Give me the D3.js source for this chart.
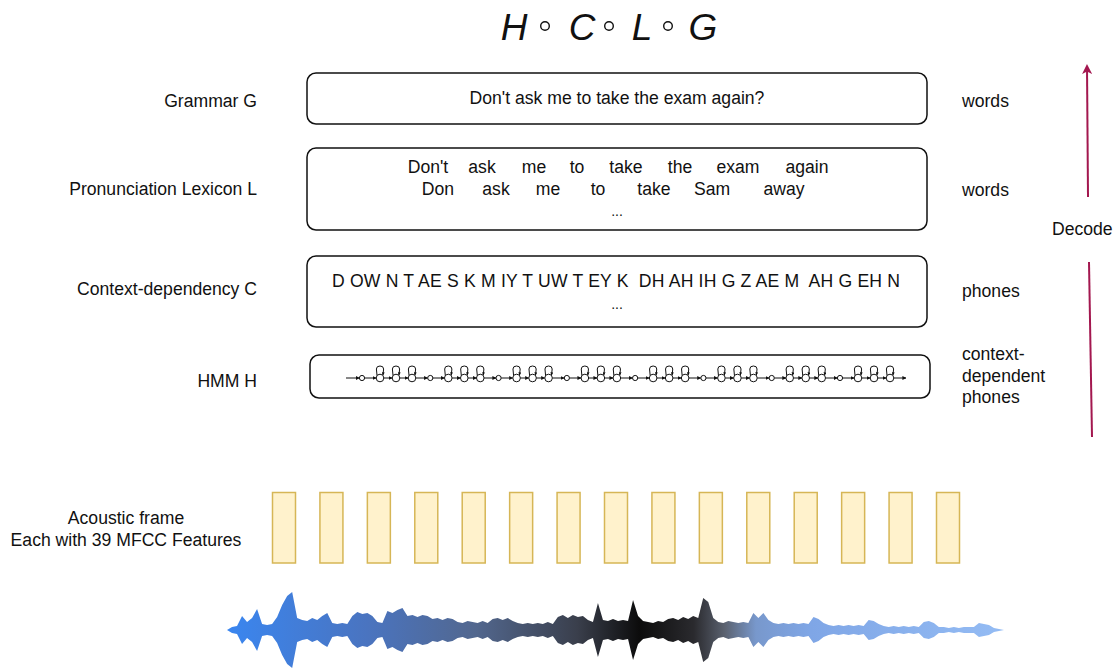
<!DOCTYPE html>
<html><head><meta charset="utf-8">
<script src="https://cdn.jsdelivr.net/npm/d3@7"></script>
<style>
html,body{margin:0;padding:0;background:#fff;}
svg{display:block;font-family:"Liberation Sans",Arial,Helvetica,sans-serif;}
</style></head>
<body><svg id="c" width="1118" height="671"></svg>
<script>
// ---------- data ----------
const titleParts = ["H","C","L","G"];
const layerNames = ["Grammar G","Pronunciation Lexicon L","Context-dependency C","HMM H"];
const layerUnits = [["words"],["words"],["phones"],["context-","dependent","phones"]];
const grammarSentence = "Don't ask me to take the exam again?";
const lexiconRow1 = ["Don't","ask","me","to","take","the","exam","again"];
const lexiconRow2 = ["Don","ask","me","to","take","Sam","away"];
const phoneString = "D OW N T AE S K M IY T UW T EY K  DH AH IH G Z AE M  AH G EH N";
const hmmPhoneCount = 8;
const hmmStatesPerPhone = 3;
const frameCount = 15;
const frameLabel = ["Acoustic frame","Each with 39 MFCC Features"];
const decodeLabel = "Decode";
// waveform envelope (half-amplitude), sampled evenly left→right
const waveAmp = [0,3,4,14,8,12,21,6,5,6,13,25,34,38,12,10,9,12,10,14,17,7,6,7,6,14,18,16,17,14,8,7,19,17,20,22,14,15,13,15,14,11,12,10,12,11,8,7,9,8,7,9,7,11,12,10,12,9,7,6,7,6,7,6,8,6,13,15,12,15,13,14,10,8,27,10,9,11,9,10,9,30,14,9,8,7,9,8,11,12,10,13,11,14,12,32,28,12,8,7,9,8,7,8,7,17,12,17,10,7,6,7,6,7,6,7,6,13,11,7,5,4,5,4,5,4,5,4,10,9,6,4,3,4,3,4,3,4,3,8,9,7,3,3,2,3,2,3,3,3,7,6,5,2,1,0];

// ---------- drawing ----------
const svg = d3.select("#c");
const ink = "#111";
const fs = 17.6;
const defs = svg.append("defs");

// Title H ∘ C ∘ L ∘ G
const titleX = [514, 582, 642, 703];
const title = svg.append("g");
title.selectAll("text").data(titleParts).join("text")
  .attr("x", (d,i) => titleX[i]).attr("y", 40)
  .attr("text-anchor","middle").attr("font-size", 37).attr("font-style","italic")
  .attr("fill", ink).text(d => d);
title.selectAll("circle").data(titleParts.slice(1)).join("circle")
  .attr("cx", (d,i) => [545, 609, 668][i]).attr("cy", 26).attr("r", 4.3)
  .attr("fill","none").attr("stroke", ink).attr("stroke-width", 1.4);

// Layer boxes
const boxGeom = [
  {x:307, y:73, w:620, h:51},
  {x:307, y:148, w:620, h:82},
  {x:307, y:256, w:620, h:71},
  {x:310, y:355, w:620, h:43}
];
const labelY = [107, 195, 295, 387];
svg.append("g").selectAll("rect").data(boxGeom).join("rect")
  .attr("x", d => d.x).attr("y", d => d.y).attr("width", d => d.w).attr("height", d => d.h)
  .attr("rx", 9).attr("ry", 9).attr("fill","#fff").attr("stroke", ink).attr("stroke-width", 1.5);

svg.append("g").selectAll("text").data(layerNames).join("text")
  .attr("x", 257).attr("y", (d,i) => labelY[i]).attr("text-anchor","end")
  .attr("font-size", fs).attr("fill", ink).text(d => d);

const unitY = [107, 196, 297, 360];
const unitG = svg.append("g");
layerUnits.forEach((lines, i) => {
  lines.forEach((t, j) => {
    unitG.append("text").attr("x", 962).attr("y", unitY[i] + j * 21.5)
      .attr("font-size", fs).attr("fill", ink).text(t);
  });
});

// Grammar sentence
svg.append("text").attr("x", 617).attr("y", 104).attr("text-anchor","middle")
  .attr("font-size", fs).attr("fill", ink).text(grammarSentence);

// Lexicon rows
const row1X = [428, 482, 534, 577, 626, 680, 738, 807];
const row2X = [438, 496, 548, 598, 654, 712, 784];
svg.append("g").selectAll("text").data(lexiconRow1).join("text")
  .attr("x", (d,i) => row1X[i]).attr("y", 173).attr("text-anchor","middle")
  .attr("font-size", fs).attr("fill", ink).text(d => d);
svg.append("g").selectAll("text").data(lexiconRow2).join("text")
  .attr("x", (d,i) => row2X[i]).attr("y", 195).attr("text-anchor","middle")
  .attr("font-size", fs).attr("fill", ink).text(d => d);
svg.append("text").attr("x", 617).attr("y", 216).attr("text-anchor","middle")
  .attr("font-size", 14).attr("fill", ink).text("...");

// Context-dependency phones
svg.append("text").attr("x", 616).attr("y", 287).attr("text-anchor","middle")
  .attr("font-size", fs).attr("fill", ink).style("white-space","pre")
  .attr("textLength", 568).attr("lengthAdjust","spacing").text(phoneString);
svg.append("text").attr("x", 617).attr("y", 309).attr("text-anchor","middle")
  .attr("font-size", 14).attr("fill", ink).text("...");

// HMM chain
defs.append("marker").attr("id","ah").attr("viewBox","0 0 10 10").attr("refX",9).attr("refY",5)
  .attr("markerWidth",4).attr("markerHeight",4).attr("orient","auto-start-reverse")
  .append("path").attr("d","M0,0L10,5L0,10z").attr("fill", ink);
defs.append("marker").attr("id","ahs").attr("viewBox","0 0 10 10").attr("refX",9).attr("refY",5)
  .attr("markerWidth",3).attr("markerHeight",3).attr("orient","auto")
  .append("path").attr("d","M0,0L10,5L0,10z").attr("fill", ink);

const hx = d3.scaleLinear().domain([0, hmmPhoneCount - 1]).range([362, 840]);
const cyH = 378, rS = 3.8, rE = 2.6;
const stateOff = [18, 34, 50];
const hmm = svg.append("g").attr("stroke", ink).attr("stroke-width", 1).attr("fill","none");
const nodes = [];
d3.range(hmmPhoneCount).forEach(p => {
  nodes.push({x: hx(p), r: rE, state:false});
  d3.range(hmmStatesPerPhone).forEach(s => nodes.push({x: hx(p) + stateOff[s], r: rS, state:true}));
});
hmm.append("line").attr("x1", 346).attr("y1", cyH).attr("x2", nodes[0].x - nodes[0].r).attr("y2", cyH)
  .attr("marker-end","url(#ah)");
nodes.forEach((n, i) => {
  const next = nodes[i+1];
  const x1 = n.x + n.r, x2 = next ? next.x - next.r : 906;
  hmm.append("line").attr("x1", x1).attr("y1", cyH).attr("x2", x2).attr("y2", cyH)
    .attr("marker-end","url(#ah)");
});
hmm.selectAll("circle").data(nodes).join("circle")
  .attr("cx", d => d.x).attr("cy", cyH).attr("r", d => d.r).attr("fill","#fff");
hmm.selectAll("path.loop").data(nodes.filter(d => d.state)).join("path").attr("class","loop")
  .attr("d", d => `M${d.x-3},${cyH-2.6} L${d.x-3.6},${cyH-9} Q${d.x-3.6},${cyH-12} ${d.x},${cyH-12} Q${d.x+3.6},${cyH-12} ${d.x+3.6},${cyH-9} L${d.x+3},${cyH-3}`)
  .attr("marker-end","url(#ahs)");

// Acoustic frames
const fx = d3.scaleLinear().domain([0, frameCount - 1]).range([272, 936]);
svg.append("g").selectAll("rect").data(d3.range(frameCount)).join("rect")
  .attr("x", d => fx(d) + 0.5).attr("y", 492.5).attr("width", 23).attr("height", 70.5)
  .attr("fill","#fff2cc").attr("stroke","#d6b656").attr("stroke-width", 1.5);
svg.append("g").selectAll("text").data(frameLabel).join("text")
  .attr("x", 126).attr("y", (d,i) => 524 + i * 22).attr("text-anchor","middle")
  .attr("font-size", fs).attr("fill", ink).text(d => d);

// Decode arrow
const dec = "#a3174f";
defs.append("marker").attr("id","ad").attr("viewBox","0 0 10 10").attr("refX",8).attr("refY",5)
  .attr("markerWidth",5).attr("markerHeight",5).attr("orient","auto")
  .append("path").attr("d","M0,0L10,5L0,10L2.5,5z").attr("fill", dec);
svg.append("line").attr("x1",1088).attr("y1",197).attr("x2",1087).attr("y2",66)
  .attr("stroke",dec).attr("stroke-width",2).attr("marker-end","url(#ad)");
svg.append("line").attr("x1",1092).attr("y1",437).attr("x2",1089).attr("y2",262)
  .attr("stroke",dec).attr("stroke-width",2);
svg.append("text").attr("x",1052).attr("y",235).attr("font-size",fs).attr("fill",ink).text(decodeLabel);

// Waveform
const grad = defs.append("linearGradient").attr("id","wg").attr("gradientUnits","userSpaceOnUse")
  .attr("x1",227).attr("x2",1005).attr("y1",0).attr("y2",0);
[[0,"#3a86f0"],[0.18,"#4a74c0"],[0.32,"#52678e"],[0.45,"#3a3f4c"],[0.53,"#0c0c0c"],[0.6,"#2a2a2e"],[0.64,"#5b6270"],[0.68,"#7898cc"],[0.75,"#7fa6e6"],[1,"#94bcf4"]]
  .forEach(s => grad.append("stop").attr("offset", s[0]).attr("stop-color", s[1]));
const wx = d3.scaleLinear().domain([0, waveAmp.length - 1]).range([227, 1004]);
const wy = d3.scaleLinear().domain([-40, 40]).range([670, 590]);
const area = d3.area().x((d,i) => wx(i)).y0(d => wy(-d)).y1(d => wy(d)).curve(d3.curveLinear);
svg.append("path").datum(waveAmp).attr("d", area).attr("fill","url(#wg)");
</script></body></html>
